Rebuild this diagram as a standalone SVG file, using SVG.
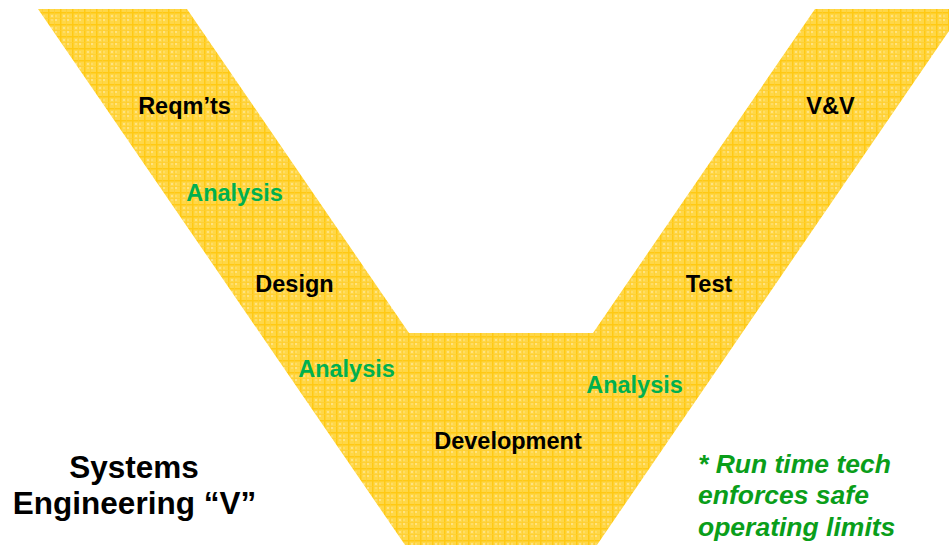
<svg xmlns="http://www.w3.org/2000/svg" width="949" height="545" viewBox="0 0 949 545">
  <style>
    .lbl { font-family: "Liberation Sans", Arial, sans-serif; font-weight: bold; font-size: 23.5px; text-anchor: middle; }
    .step { fill: #000000; }
    .ana { fill: #00B050; }
    .title { font-family: "Liberation Sans", Arial, sans-serif; font-weight: bold; font-size: 31.5px; text-anchor: middle; fill: #000000; }
    .note { font-family: "Liberation Sans", Arial, sans-serif; font-weight: bold; font-style: italic; font-size: 26.5px; fill: #0A9E1A; }
  </style>
  <defs>
    <!-- woven yellow texture of the V band -->
    <pattern id="weave" width="12" height="12" patternUnits="userSpaceOnUse">
      <rect width="12" height="12" fill="#FFD747"/>
      <rect x="3" y="3" width="2" height="2" fill="#FFE383"/>
      <rect x="7" y="7" width="2" height="2" fill="#FFE383"/>
      <rect x="7" y="3" width="2" height="2" fill="#FFDD66"/>
      <rect x="3" y="7" width="2" height="2" fill="#FFDD66"/>
      <rect x="0" y="0" width="12" height="1.5" fill="#FFC914"/>
      <rect x="0" y="0" width="1.5" height="12" fill="#FFC914"/>
      <rect x="0" y="6" width="12" height="0.8" fill="#FFCF30"/>
      <rect x="6" y="0" width="0.8" height="12" fill="#FFCF30"/>
    </pattern>
  </defs>

  <!-- the V band: left arm, bottom block, right arm -->
  <g id="v-band">
    <polygon points="38,9 187,9 409,333 593,333 815,9 964,9 597,545 405,545" fill="url(#weave)"/>
  </g>

  <g id="left-arm">
    <text class="lbl step" x="184.5" y="114">Reqm’ts</text>
    <text class="lbl ana" x="234.5" y="201">Analysis</text>
    <text class="lbl step" x="294.5" y="292">Design</text>
    <text class="lbl ana" x="346.5" y="377">Analysis</text>
  </g>

  <g id="bottom-block">
    <text class="lbl step" x="508" y="449">Development</text>
  </g>

  <g id="right-arm">
    <text class="lbl ana" x="634.5" y="393">Analysis</text>
    <text class="lbl step" x="709" y="292">Test</text>
    <text class="lbl step" x="830.5" y="114">V&amp;V</text>
  </g>

  <g id="title">
    <text class="title" x="134" y="478">Systems</text>
    <text class="title" x="134.5" y="514">Engineering “V”</text>
  </g>

  <g id="note">
    <text class="note" x="698" y="473">* Run time tech</text>
    <text class="note" x="698" y="504">enforces safe</text>
    <text class="note" x="698" y="536">operating limits</text>
  </g>

  <g id="connectors"/>
</svg>
